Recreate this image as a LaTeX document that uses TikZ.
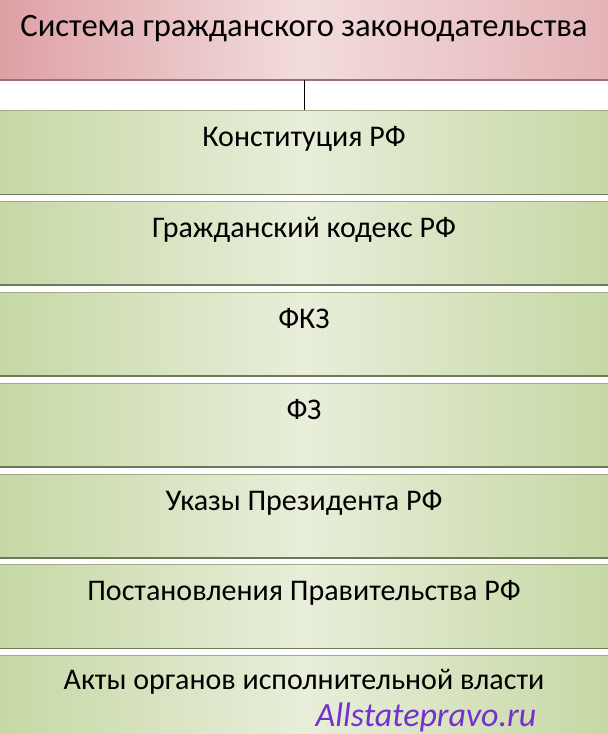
\documentclass[tikz,border=0pt]{standalone}
\usepackage{fontspec}
\setmainfont{Carlito}
\usetikzlibrary{positioning}
\definecolor{pinkedge}{RGB}{222,160,165}
\definecolor{pinkmid}{RGB}{242,220,220}
\definecolor{greenedge}{RGB}{198,216,165}
\definecolor{greenmid}{RGB}{232,238,218}
\definecolor{wmpurple}{RGB}{118,48,205}
\tikzset{
    head/.style={
           rectangle,
           inner sep=0pt,
           minimum width=304pt,
           text height=18pt, text depth=22pt,
           left color=pinkedge, right color=pinkedge!80!white, middle color=pinkmid,
           font=\fontsize{16.3}{19}\selectfont,
           path picture={\draw[pinkedge!70!black,line width=1.2pt]
               (path picture bounding box.south west) -- (path picture bounding box.south east);},
           },
}
\tikzset{
    law/.style={
           rectangle,
           inner sep=0pt,
           minimum width=304pt,
           text height=18pt, text depth=24pt,
           left color=greenedge, right color=greenedge, middle color=greenmid,
           font=\fontsize{15}{18}\selectfont,
           path picture={\draw[black!45!greenedge,line width=1.2pt]
               (path picture bounding box.south west) -- (path picture bounding box.south east);
               \draw[black!20!greenedge,line width=0.6pt]
               (path picture bounding box.north west) -- (path picture bounding box.north east);},
           },
}
\begin{document}
\begin{tikzpicture}
\useasboundingbox (-152pt,20pt) rectangle (152pt,-347pt);
\node[head](title) at (0,0){Система гражданского законодательства};
\node[law,below=15pt of title](konst){Конституция РФ};
\node[law,below=3pt of konst](gk){Гражданский кодекс РФ};
\node[law,below=3pt of gk](fkz){ФКЗ};
\node[law,below=3pt of fkz](fz){ФЗ};
\node[law,below=3pt of fz](ukazy){Указы Президента РФ};
\node[law,below=3pt of ukazy](post){Постановления Правительства РФ};
\node[law,below=3pt of post,text height=17pt,text depth=25pt](akty){Акты органов исполнительной власти};
\node[text=wmpurple,font=\fontsize{17}{20}\itshape,inner sep=0pt](wm) at (61pt,-338.5pt){Allstatepravo.ru};
\draw[black,thin](title.south) -- (konst.north);
\end{tikzpicture}
\end{document}
